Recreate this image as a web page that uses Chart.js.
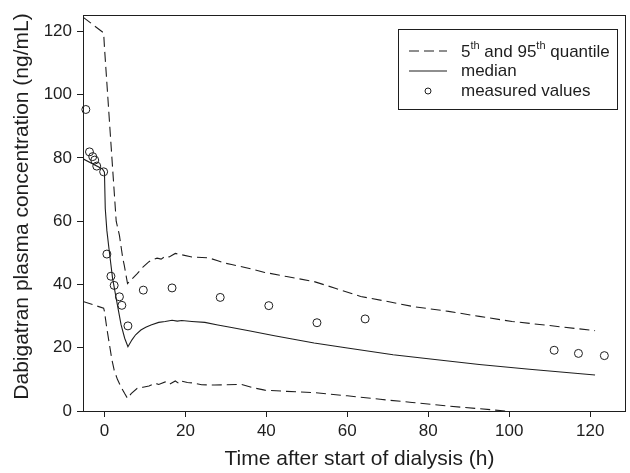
<!DOCTYPE html>
<html>
<head>
<meta charset="utf-8">
<script src="https://cdn.jsdelivr.net/npm/chart.js@4.4.1/dist/chart.umd.min.js"></script>
<style>
  html, body { margin: 0; padding: 0; background: #fff; }
  #wrap { width: 630px; height: 473px; position: relative; }
</style>
</head>
<body>
<div id="wrap"><canvas id="c" width="630" height="473"></canvas></div>
<script>
// ---- data ----
const xTickValues = [0, 20, 40, 60, 80, 100, 120];
const yTickValues = [0, 20, 40, 60, 80, 100, 120];

const upperTime = [-5.3, -0.2, 0, 1.0, 2.0, 2.9, 3.7, 4.5, 4.9, 5.7, 6.6, 8.1, 9.5, 11, 12, 13, 14, 15.1, 16, 17.5, 19, 21.6, 25.7, 28, 29.5, 31.4, 35, 39.6, 45, 51.8, 57, 63.3, 70, 76.3, 85, 92.6, 100.7, 110, 121.2];
const upperConc = [124.5, 119.5, 115, 96, 77, 60, 55.5, 48.5, 46, 40.3, 41.5, 43.4, 45.5, 47.2, 47.8, 48.3, 48.0, 49.0, 48.7, 49.8, 49.4, 48.7, 48.4, 47.5, 46.8, 46.3, 45.3, 43.8, 42.5, 40.9, 38.8, 36.2, 34.6, 33.0, 31.5, 29.9, 28.3, 27.0, 25.4];

const medianTime = [-5.3, -0.5, 0, 0.2, 0.6, 1.2, 2.0, 2.9, 4.1, 5.0, 5.8, 6.8, 7.7, 9, 10.2, 11.5, 13.4, 15, 16.7, 18, 19.1, 21.6, 24.8, 28, 31.4, 36, 42, 51.8, 60, 71.3, 80, 92.6, 105, 121.2];
const medianConc = [79.7, 76.5, 75.5, 64, 57, 50.4, 42, 35.6, 27.3, 23, 20.3, 22.5, 24.1, 25.6, 26.5, 27.2, 28.0, 28.3, 28.7, 28.4, 28.6, 28.3, 28.0, 27.2, 26.4, 25.3, 23.8, 21.5, 19.9, 17.8, 16.5, 14.7, 13.2, 11.4];

const lowerTime = [-5.3, -0.2, 0, 0.6, 1.2, 1.8, 2.4, 3.2, 4.1, 5.0, 5.7, 6.6, 8.1, 9.5, 11, 12.5, 13.4, 15, 16, 17.5, 18.5, 19.1, 20.5, 21.6, 24, 27.2, 30, 33.8, 36.5, 39.6, 45, 51.8, 60, 68.1, 76, 84.5, 92, 99.1];
const lowerConc = [34.6, 32.5, 31.5, 26, 21.3, 16.5, 12.9, 10, 7.6, 5.5, 4.0, 5.5, 7.2, 7.5, 7.9, 8.8, 8.4, 9.2, 8.4, 9.5, 8.6, 9.4, 9.0, 8.9, 8.3, 8.2, 8.3, 8.4, 7.4, 6.6, 6.2, 5.8, 4.8, 3.7, 2.7, 1.6, 0.8, 0];

const measTime = [-4.6, -3.7, -2.9, -2.4, -1.9, -0.2, 0.6, 1.6, 2.4, 3.7, 4.3, 5.8, 9.6, 16.7, 28.6, 40.6, 52.5, 64.4, 111.1, 117.1, 123.5];
const measConc = [95.3, 81.9, 80.4, 79.3, 77.4, 75.6, 49.6, 42.6, 39.7, 36.1, 33.4, 26.9, 38.2, 38.9, 35.9, 33.3, 27.9, 29.1, 19.2, 18.2, 17.5];

const xTitle = 'Time after start of dialysis (h)';
const yTitle = 'Dabigatran plasma concentration (ng/mL)';

// ---- helpers ----
const pts = (xs, ys) => xs.map((x, i) => ({ x: x, y: ys[i] }));
const INK = '#1e1e1e';
const FONT = "'Liberation Sans', Arial, Helvetica, sans-serif";

const boxPlugin = {
  id: 'box',
  afterDraw(chart) {
    const { ctx, chartArea: a } = chart;
    ctx.save();
    ctx.strokeStyle = INK;
    ctx.lineWidth = 1;
    ctx.strokeRect(Math.round(a.left) + 0.5, Math.round(a.top) + 0.5,
                   Math.round(a.right - a.left), Math.round(a.bottom - a.top));
    ctx.restore();
  }
};

const titlesPlugin = {
  id: 'axisTitles',
  afterDraw(chart) {
    const ctx = chart.ctx;
    ctx.save();
    ctx.fillStyle = INK;
    ctx.font = '21px ' + FONT;
    ctx.textAlign = 'center';
    ctx.textBaseline = 'alphabetic';
    ctx.fillText(xTitle, 359.5, 465);
    ctx.translate(28, 206.5);
    ctx.rotate(-Math.PI / 2);
    ctx.fillText(yTitle, 0, 0);
    ctx.restore();
  }
};

const legendPlugin = {
  id: 'customLegend',
  afterDraw(chart) {
    const ctx = chart.ctx;
    ctx.save();
    const L = 398, T = 29, R = 617, B = 109;
    ctx.strokeStyle = INK;
    ctx.lineWidth = 1;
    ctx.strokeRect(L + 0.5, T + 0.5, R - L, B - T);
    const sx0 = 409, sx1 = 447, tx = 461;
    const rows = [51, 71, 91];
    ctx.lineWidth = 1.1;
    ctx.setLineDash([10, 5]);
    ctx.beginPath(); ctx.moveTo(sx0, rows[0]); ctx.lineTo(sx1, rows[0]); ctx.stroke();
    ctx.setLineDash([]);
    ctx.beginPath(); ctx.moveTo(sx0, rows[1]); ctx.lineTo(sx1, rows[1]); ctx.stroke();
    ctx.lineWidth = 1;
    ctx.beginPath(); ctx.arc((sx0 + sx1) / 2, rows[2], 3, 0, Math.PI * 2); ctx.stroke();
    ctx.fillStyle = INK;
    ctx.textBaseline = 'middle';
    ctx.textAlign = 'left';
    const main = '17px ' + FONT, sup = '11px ' + FONT;
    let x = tx;
    const y0 = rows[0] + 1;
    const parts = [['5', main, 0], ['th', sup, -6], [' and 95', main, 0], ['th', sup, -6], [' quantile', main, 0]];
    for (const [s, f, dy] of parts) {
      ctx.font = f;
      ctx.fillText(s, x, y0 + dy);
      x += ctx.measureText(s).width;
    }
    ctx.font = main;
    ctx.fillText('median', tx, rows[1]);
    ctx.fillText('measured values', tx, rows[2]);
    ctx.restore();
  }
};

const lineDs = (label, data, dash) => ({
  label, data, showLine: true, pointRadius: 0, pointHoverRadius: 0,
  borderColor: INK, borderWidth: 1.1, borderDash: dash, fill: false, tension: 0
});

new Chart(document.getElementById('c'), {
  type: 'scatter',
  data: {
    datasets: [
      lineDs('95th quantile', pts(upperTime, upperConc), [10, 5]),
      lineDs('median', pts(medianTime, medianConc), []),
      lineDs('5th quantile', pts(lowerTime, lowerConc), [10, 5]),
      {
        label: 'measured values', data: pts(measTime, measConc), showLine: false,
        pointRadius: 4, pointStyle: 'circle', borderColor: INK, borderWidth: 1,
        backgroundColor: 'rgba(0,0,0,0)', clip: 6
      }
    ]
  },
  options: {
    responsive: false,
    animation: false,
    layout: { padding: { top: 12, right: 2, left: 0, bottom: 0 } },
    plugins: { legend: { display: false }, tooltip: { enabled: false } },
    scales: {
      x: {
        type: 'linear', min: -5.3, max: 128.6,
        afterBuildTicks: s => { s.ticks = xTickValues.map(v => ({ value: v })); },
        afterFit: s => { s.height = 62; },
        grid: { drawOnChartArea: false, drawTicks: true, tickLength: 6, color: INK, lineWidth: 1 },
        border: { display: true, color: INK, width: 1 },
        ticks: { color: INK, font: { family: FONT, size: 17 }, padding: 4, maxRotation: 0, autoSkip: false },
        title: { display: false }
      },
      y: {
        type: 'linear', min: 0, max: 125.1,
        afterBuildTicks: s => { s.ticks = yTickValues.map(v => ({ value: v })); },
        afterFit: s => { s.width = 83; },
        grid: { drawOnChartArea: false, drawTicks: true, tickLength: 6, color: INK, lineWidth: 1 },
        border: { display: true, color: INK, width: 1 },
        ticks: { color: INK, font: { family: FONT, size: 17 }, padding: 5, autoSkip: false },
        title: { display: false }
      }
    }
  },
  plugins: [boxPlugin, titlesPlugin, legendPlugin]
});
</script>
</body>
</html>
